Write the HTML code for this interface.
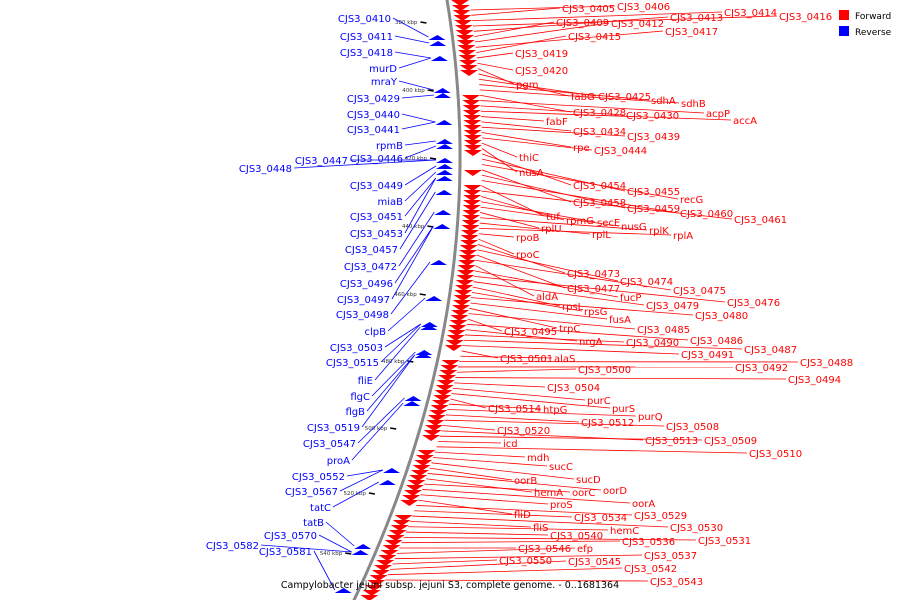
<!DOCTYPE html>
<html><head><meta charset="utf-8"><style>
body{margin:0;background:#fff}
svg{display:block;font-family:"DejaVu Sans","Liberation Sans",sans-serif}
</style></head><body>
<svg id="c" width="900" height="600" viewBox="0 0 900 600"></svg>
<script>
const fwdNames=["CJS3_0405","CJS3_0406","CJS3_0414","CJS3_0416","CJS3_0409","CJS3_0412","CJS3_0413","CJS3_0415","CJS3_0417","CJS3_0419","CJS3_0420","pgm","fabG","CJS3_0425","sdhA","sdhB","CJS3_0428","CJS3_0430","acpP","accA","fabF","CJS3_0434","CJS3_0439","rpe","CJS3_0444","thiC","nusA","CJS3_0454","CJS3_0455","recG","CJS3_0458","CJS3_0459","CJS3_0460","CJS3_0461","tuf","rpmG","secE","nusG","rplK","rplA","rplU","rplL","rpoB","rpoC","CJS3_0473","CJS3_0474","CJS3_0475","CJS3_0476","CJS3_0477","fucP","aldA","CJS3_0479","CJS3_0480","rpsL","rpsG","fusA","trpC","CJS3_0485","CJS3_0495","nrgA","CJS3_0490","CJS3_0486","CJS3_0487","CJS3_0491","CJS3_0488","CJS3_0501","alaS","CJS3_0500","CJS3_0492","CJS3_0494","CJS3_0504","purC","purS","purQ","CJS3_0514","htpG","CJS3_0512","CJS3_0508","CJS3_0520","CJS3_0513","CJS3_0509","CJS3_0510","icd","mdh","sucC","oorB","sucD","hemA","oorC","oorD","proS","oorA","CJS3_0529","fliD","CJS3_0534","CJS3_0530","fliS","CJS3_0540","hemC","CJS3_0531","CJS3_0536","CJS3_0546","efp","CJS3_0537","CJS3_0550","CJS3_0545","CJS3_0542","CJS3_0543"];
const fwdLabelX=[562,617,724,779,556,611,670,568,665,515,515,516,571,598,651,681,573,626,706,733,546,573,627,573,594,519,519,573,627,680,573,627,680,734,546,566,597,621,649,673,541,592,516,516,567,620,673,727,567,620,536,646,695,562,584,609,559,637,504,579,626,690,744,681,800,500,554,578,735,788,547,587,612,638,488,543,581,666,497,645,704,749,503,527,549,514,576,534,572,603,550,632,634,514,574,670,533,550,610,698,622,518,577,644,499,568,624,650];
const fwdLabelY=[8,6,12,16,22,23,17,36,31,53,70,84,96,96,100,103,112,115,113,120,121,131,136,147,150,157,172,185,191,199,202,208,213,219,216,220,222,226,230,235,228,234,237,254,273,281,290,302,288,297,296,305,315,306,311,319,328,329,331,341,342,340,349,354,362,358,358,369,367,379,387,400,408,416,408,409,422,426,430,440,440,453,443,457,466,480,479,492,492,490,504,503,515,514,517,527,527,535,530,540,541,548,548,555,560,561,568,581];
const revNames=["CJS3_0410","CJS3_0411","CJS3_0418","murD","mraY","CJS3_0429","CJS3_0440","CJS3_0441","rpmB","CJS3_0446","CJS3_0447","CJS3_0448","CJS3_0449","miaB","CJS3_0451","CJS3_0453","CJS3_0457","CJS3_0472","CJS3_0496","CJS3_0497","CJS3_0498","clpB","CJS3_0503","CJS3_0515","fliE","flgC","flgB","CJS3_0519","CJS3_0547","proA","CJS3_0552","CJS3_0567","tatC","tatB","CJS3_0570","CJS3_0581","CJS3_0582"];
const revLabelX=[391,393,393,397,397,400,400,400,403,403,348,292,403,403,403,403,398,397,393,390,389,386,383,379,373,370,365,360,356,350,345,338,331,324,317,312,259];
const revLabelY=[18,36,52,68,81,98,114,129,145,158,160,168,185,201,216,233,249,266,283,299,314,331,347,362,380,396,411,427,443,460,476,491,507,522,535,551,545];
const revGeneY=[37,43,58,90,95,122,141,146,160,166,172,178,192,212,226,262,298,324,327,352,355,398,403,470,482,546,552,590];
const tickLabels=["380 kbp","400 kbp","420 kbp","440 kbp","460 kbp","480 kbp","500 kbp","520 kbp","540 kbp"];
const tickY=[22,90,158,226,294,361,428,493,553];

const S="http://www.w3.org/2000/svg",svg=document.getElementById('c');
const ax=y=>447+0.1672*y-0.000537*y*y;
function el(t,a,p){const e=document.createElementNS(S,t);for(const k in a)e.setAttribute(k,a[k]);(p||svg).appendChild(e);return e;}
let d="";for(let y=-5;y<=605;y+=5)d+=(d?"L":"M")+ax(y).toFixed(1)+","+y;
const bb=el('path',{d:d,fill:'none',stroke:'#888','stroke-width':3});

const gaps=[[74,90],[152,166],[174,180],[348,356],[440,448],[505,512]];
const fg=el('g',{fill:'#f00'});

for(let y=0;y<600;y+=5){if(gaps.some(g=>y>=g[0]&&y<=g[1]))continue;const x=ax(y);
 el('path',{d:`M${x+4},${y} L${x+22},${y} L${x+13},${y+6}Z`},fg);}
const rg=el('g',{fill:'#00f'});

revGeneY.forEach(y=>{const x=ax(y);el('path',{d:`M${x-24},${y+3} L${x-7},${y+3} L${x-15},${y-2}Z`},rg);});
tickLabels.forEach((t,i)=>{const y=tickY[i],x=ax(y);
 const tx=el('text',{x:x-33,y:y+2,'font-size':5.5,fill:'#333','text-anchor':'end'});tx.textContent=t;
 
 el('line',{x1:x-30,y1:y,x2:x-24,y2:y+1,stroke:'#000','stroke-width':1.5});});
const fs=fwdLabelY.map((y,i)=>i).sort((a,b)=>fwdLabelY[a]-fwdLabelY[b]);
fs.forEach((i,k)=>{const gy=10+k*(570/(fs.length-1));const gx=ax(gy)+22;
 el('line',{x1:gx,y1:gy,x2:fwdLabelX[i]-2,y2:fwdLabelY[i],stroke:'#f00','stroke-width':0.8});
 const t=el('text',{x:fwdLabelX[i],y:fwdLabelY[i]+4,'font-size':10,fill:'#f00'});t.textContent=fwdNames[i];
 });
const rs=revLabelY.map((y,i)=>i).sort((a,b)=>revLabelY[a]-revLabelY[b]);
rs.forEach((i,k)=>{const gy=revGeneY[Math.min(revGeneY.length-1,Math.round(k*(revGeneY.length-1)/(rs.length-1)))];const gx=ax(gy)-24;
 el('line',{x1:revLabelX[i]+2,y1:revLabelY[i],x2:gx,y2:gy,stroke:'#00f','stroke-width':0.8});
 const t=el('text',{x:revLabelX[i],y:revLabelY[i]+4,'font-size':10,fill:'#00f','text-anchor':'end'});t.textContent=revNames[i];
 });
const lg=el('g',{});
el('rect',{x:839,y:10,width:10,height:10,fill:'#f00'},lg);el('rect',{x:839,y:26,width:10,height:10,fill:'#00f'},lg);
let t1=el('text',{x:855,y:19,'font-size':9,fill:'#000'},lg);t1.textContent="Forward";
let t2=el('text',{x:855,y:35,'font-size':9,fill:'#000'},lg);t2.textContent="Reverse";
const ti=el('text',{x:450,y:588,'font-size':9.5,fill:'#000','text-anchor':'middle'});
ti.textContent="Campylobacter jejuni subsp. jejuni S3, complete genome. - 0..1681364";

</script></body></html>
